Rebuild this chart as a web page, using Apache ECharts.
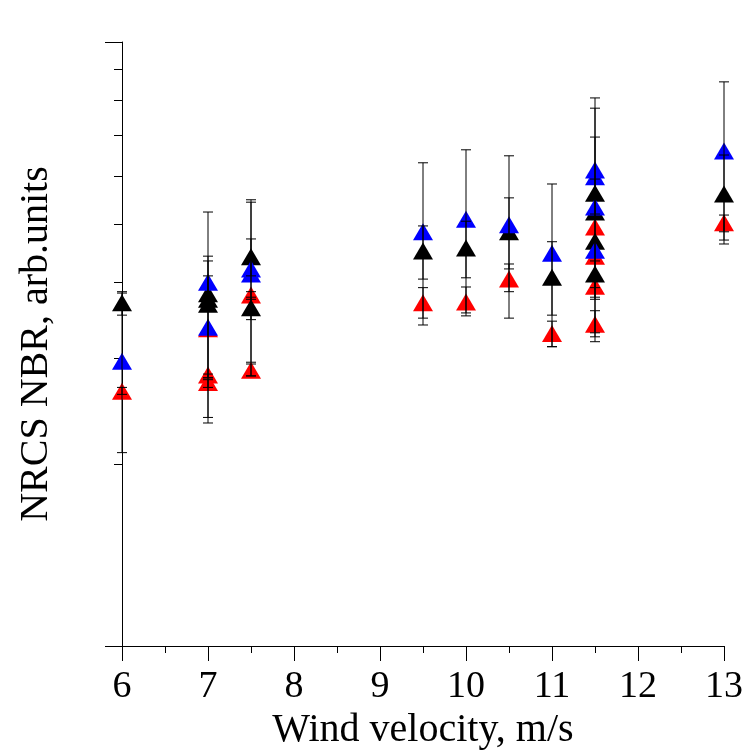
<!DOCTYPE html>
<html>
<head>
<meta charset="utf-8">
<script src="https://cdn.jsdelivr.net/npm/echarts@6/dist/echarts.min.js"></script>
<style>
  html, body { margin: 0; padding: 0; background: #fff; }
  #chart { width: 742px; height: 751px; }
</style>
</head>
<body>
<div id="chart"></div>
<script>
const FONT = '"Liberation Serif", "Times New Roman", serif';

// wind velocity, m/s -> NRCS NBR (arb. units), one pair of arrays per marker colour
const redX   = [6, 7, 7, 7, 7.5, 7.5, 9.5, 10, 10.5, 11, 11.5, 11.5, 11.5, 11.5, 13];
const redY   = [2.64, 3.35, 2.81, 2.73, 3.81, 2.86, 3.70, 3.71, 4.05, 3.29, 4.94, 4.42, 3.94, 3.41, 5.02];

const blackX = [6, 7, 7, 7, 7.5, 7.5, 9.5, 10, 10.5, 11, 11.5, 11.5, 11.5, 11.5, 13];
const blackY = [3.70, 3.83, 3.75, 3.68, 4.41, 3.63, 4.51, 4.56, 4.85, 4.08, 5.62, 5.23, 4.68, 4.13, 5.60];

const blueX  = [6, 7, 7, 7.5, 7.5, 9.5, 10, 10.5, 11, 11.5, 11.5, 11.5, 11.5, 13];
const blueY  = [2.96, 4.00, 3.37, 4.21, 4.13, 4.85, 5.09, 4.98, 4.47, 6.14, 5.98, 5.33, 4.52, 6.60];

// error bars: x, upper end, lower end
const errX      = [6, 6, 6, 7, 7, 7, 7, 7, 7, 7.5, 7.5, 7.5, 7.5, 7.5, 7.5,
                   9.5, 9.5, 9.5, 10, 10, 10, 10.5, 10.5, 10.5, 11, 11, 11,
                   11.5, 11.5, 11.5, 11.5, 11.5, 11.5, 11.5, 13, 13, 13];
const errTop    = [3.86, 3.84, 2.68, 5.23, 4.42, 4.34, 4.10, 2.82, 2.76, 5.48, 5.43, 4.72, 3.86, 3.78, 2.93,
                   6.31, 4.96, 3.92, 6.63, 5.05, 3.93, 6.48, 5.52, 4.29, 5.82, 4.67, 3.45,
                   8.08, 7.77, 6.96, 5.93, 4.34, 4.10, 3.59, 8.59, 6.50, 5.17];
const errBottom = [3.53, 2.09, 2.61, 2.78, 2.39, 2.34, 3.60, 2.78, 2.68, 2.95, 2.80, 4.10, 3.75, 3.47, 2.80,
                   3.40, 4.05, 3.49, 3.56, 4.07, 3.52, 3.49, 4.21, 3.86, 3.13, 3.53, 3.13,
                   3.19, 3.30, 3.75, 5.19, 3.92, 3.78, 3.25, 4.63, 4.70, 4.85];

const yMajorTicks = [1, 10];
const yMinorTicks = [2, 3, 4, 5, 6, 7, 8, 9];

function pairs(xs, ys) {
  return xs.map((x, i) => [x, ys[i]]);
}

const chart = echarts.init(document.getElementById('chart'));

function triangles(name, color, xs, ys) {
  return {
    name: name,
    type: 'scatter',
    symbol: 'triangle',
    symbolSize: [20, 17],
    itemStyle: { color: color, opacity: 1 },
    emphasis: { disabled: true },
    data: pairs(xs, ys),
    z: 3
  };
}

const option = {
  backgroundColor: '#fff',
  animation: false,
  grid: { left: 122, right: 18, top: 42, bottom: 105, outerBoundsMode: 'none', containLabel: false },
  xAxis: {
    type: 'value',
    min: 6,
    max: 13,
    interval: 1,
    name: 'Wind velocity, m/s',
    nameLocation: 'middle',
    nameGap: 60,
    nameTextStyle: { fontFamily: FONT, fontSize: 40, color: '#000' },
    axisLine: { show: true, lineStyle: { color: '#000', width: 1 } },
    axisTick: { show: true, length: 15, lineStyle: { color: '#000', width: 1 } },
    minorTick: { show: true, splitNumber: 2, length: 7, lineStyle: { color: '#000', width: 1 } },
    axisLabel: { fontFamily: FONT, fontSize: 38, color: '#000', margin: 22 },
    splitLine: { show: false }
  },
  yAxis: [
    {
      type: 'log',
      logBase: 10,
      min: 1,
      max: 10,
      name: 'NRCS NBR, arb.units',
      nameLocation: 'middle',
      nameGap: 66,
      nameTextStyle: { fontFamily: FONT, fontSize: 40, color: '#000' },
      axisLine: { show: true, lineStyle: { color: '#000', width: 1 } },
      axisTick: { show: true, length: 17, customValues: yMajorTicks, lineStyle: { color: '#000', width: 1 } },
      axisLabel: { show: false },
      splitLine: { show: false }
    },
    {
      type: 'log',
      logBase: 10,
      min: 1,
      max: 10,
      position: 'left',
      axisLine: { show: false },
      axisTick: { show: true, length: 8, customValues: yMinorTicks, lineStyle: { color: '#000', width: 1 } },
      axisLabel: { show: false },
      splitLine: { show: false }
    }
  ],
  series: [
    triangles('red', '#ff0000', redX, redY),
    triangles('black', '#000000', blackX, blackY),
    triangles('blue', '#0000ff', blueX, blueY),
    {
      name: 'error',
      type: 'custom',
      z: 5,
      clip: false,
      encode: { x: 0, y: [1, 2] },
      data: errX.map((x, i) => [x, errTop[i], errBottom[i]]),
      renderItem: function (params, api) {
        const x = api.value(0);
        const top = api.coord([x, api.value(1)]);
        const bot = api.coord([x, api.value(2)]);
        const hw = 5;
        const st = { stroke: '#000', lineWidth: 1 };
        return {
          type: 'group',
          children: [
            { type: 'line', shape: { x1: top[0], y1: top[1], x2: bot[0], y2: bot[1] }, style: st },
            { type: 'line', shape: { x1: top[0] - hw, y1: top[1], x2: top[0] + hw, y2: top[1] }, style: st },
            { type: 'line', shape: { x1: bot[0] - hw, y1: bot[1], x2: bot[0] + hw, y2: bot[1] }, style: st }
          ]
        };
      }
    }
  ]
};

chart.setOption(option);
</script>
</body>
</html>
